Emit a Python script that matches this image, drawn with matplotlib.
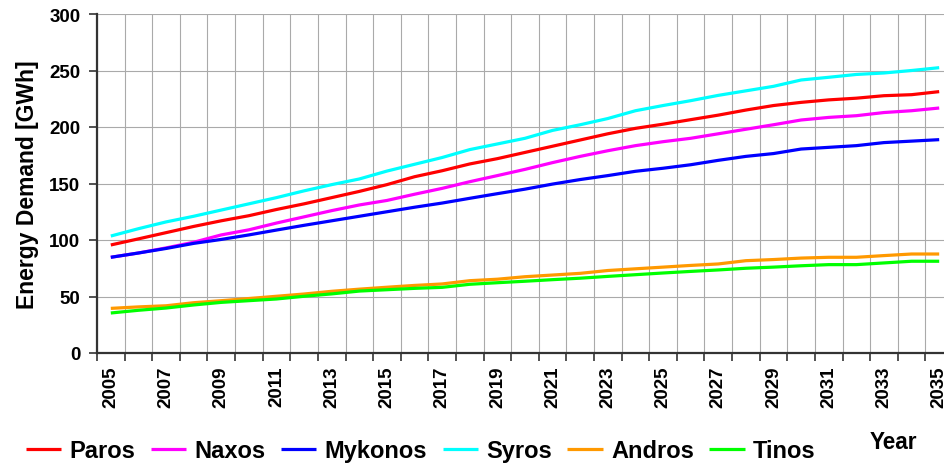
import matplotlib
matplotlib.use("Agg")
import matplotlib.pyplot as plt
from matplotlib.ticker import FixedLocator

plt.rcParams['font.family'] = ['Liberation Sans', 'DejaVu Sans']
plt.rcParams['font.weight'] = 'bold'

years = list(range(2005, 2036))

paros = [95.6, 101, 106.5, 112, 117, 121.5, 127, 132, 137.5, 143,
         149, 156, 161.3, 167.3, 172, 177.5, 183, 188.5, 194, 198.8,
         202.5, 206.5, 210.5, 215, 219, 221.8, 224, 225.5, 227.7, 228.6, 231.3]
naxos = [84.7, 88.5, 93, 98, 104.5, 109, 115, 120.5, 126, 131,
         135, 140.5, 145.7, 151.6, 157, 162.5, 168.5, 174, 179, 183.5,
         187, 190, 194, 198, 202, 206.2, 208.5, 210, 212.8, 214.4, 216.8]
mykonos = [84.7, 88.5, 92.5, 97, 100.5, 104.5, 108.8, 113, 117, 121,
           125, 129, 132.7, 136.9, 141, 145, 149.5, 153.5, 157, 160.8,
           163.5, 166.6, 170.5, 174, 176.5, 180.5, 182, 183.5, 186.2, 187.5, 188.8]
syros = [103.5, 110, 116, 121, 126.5, 132, 137.5, 143.5, 149, 154,
         161, 167, 173, 180, 185, 190, 197, 202, 207.5, 214.4,
         219, 223.3, 228, 232, 236, 241.6, 244, 246.5, 247.8, 250, 252.5]
andros = [39.5, 40.8, 41.8, 44.5, 46.3, 48.2, 50.2, 52.2, 54.6, 56.5,
          58.2, 59.8, 61.1, 64, 65.3, 67.5, 69, 70.5, 73, 74.5,
          76, 77.5, 78.8, 81.7, 82.7, 84, 84.7, 84.7, 86.2, 87.6, 87.6]
tinos = [35.4, 37.8, 39.8, 42.5, 44.8, 46.3, 47.8, 50.2, 52.3, 54.8,
         56, 57.2, 58.1, 60.8, 62.2, 63.5, 64.9, 66.2, 67.8, 69.3,
         70.8, 72.2, 73.5, 75, 76, 77.2, 78.2, 78.2, 79.7, 81.2, 81.2]

series = [
    ("Paros", paros, "#FF0000"),
    ("Naxos", naxos, "#FF00FF"),
    ("Mykonos", mykonos, "#0000FF"),
    ("Syros", syros, "#00FFFF"),
    ("Andros", andros, "#FF9900"),
    ("Tinos", tinos, "#00FF00"),
]

W, H = 945, 464
fig = plt.figure(figsize=(W / 100, H / 100), dpi=100)
# plot area in pixels: left 97, right ~953 (cropped), top 15, bottom 354
ax = fig.add_axes([97 / W, (H - 354) / H, 856 / W, 339 / H])

for name, vals, col in series:
    ax.plot(years, vals, color=col, lw=2.3, label=name, solid_capstyle='butt')

ax.set_xlim(2004.5, 2035.5)
ax.set_ylim(0, 300)

# category boundaries carry tick marks and gridlines
ax.xaxis.set_major_locator(FixedLocator([y - 0.5 for y in years] + [2035.5]))
ax.xaxis.set_major_formatter(plt.NullFormatter())
ax.xaxis.set_minor_locator(FixedLocator(years[::2]))
ax.set_xticklabels([str(y) for y in years[::2]], minor=True, rotation=90,
                   fontsize=13.5, fontweight='bold')
ax.tick_params(axis='x', which='major', length=6, width=1.2, color='#333333',
               direction='out')
ax.tick_params(axis='x', which='minor', length=0, pad=9)

ax.set_yticks(range(0, 301, 50))
ax.tick_params(axis='y', length=6, width=1.2, color='#333333', direction='out',
               labelsize=13.5, pad=6)
for lab in ax.get_yticklabels():
    lab.set_fontweight('bold')

ax.grid(True, which='major', color='#aaaaaa', lw=0.8)
ax.set_axisbelow(True)

for s in ['top', 'right']:
    ax.spines[s].set_visible(False)
for s in ['left', 'bottom']:
    ax.spines[s].set_color('#333333')
    ax.spines[s].set_linewidth(1.6)

ax.set_ylabel('Energy Demand [GWh]', fontsize=16.5, fontweight='bold')
ax.yaxis.set_label_coords(-0.068, 0.5)

fig.legend(loc='center left', bbox_to_anchor=(26 / W, (H - 452) / H), ncol=6,
           frameon=False, handlelength=1.5, handletextpad=0.35,
           columnspacing=0.65, borderaxespad=0, borderpad=0,
           prop={'weight': 'bold', 'size': 17})

fig.text(893 / W, (H - 443) / H, 'Year', fontsize=16.3, fontweight='bold',
         ha='center', va='center')

fig.savefig('out.png', dpi=100)
